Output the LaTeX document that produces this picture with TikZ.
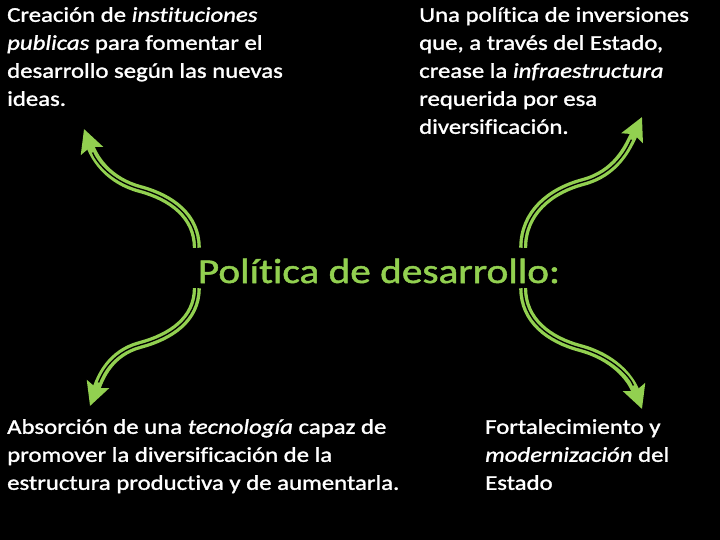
\documentclass[tikz,border=0pt]{standalone}
\usepackage{fontspec}
\setmainfont{Carlito}[FakeStretch=1.18, FakeBold=1.4, Ligatures=NoCommon]
\usepackage{tikz}
\usetikzlibrary{arrows.meta}
\definecolor{leafgreen}{RGB}{146,208,80}
\tikzset{
    bodytext/.style={anchor=north west, inner sep=0pt, align=left, text=white,
        font=\fontsize{21}{28}\selectfont},
    headline/.style={inner sep=0pt, text=leafgreen, font=\fontsize{35}{38}\selectfont},
    hubbox/.style={inner sep=0pt, minimum width=326pt, minimum height=40pt},
    curvy/.style={draw=leafgreen, line width=8pt, -{Stealth[length=23pt,width=23pt,inset=4pt]}},
    curvycore/.style={draw=black, line width=1.3pt, shorten >=25pt}
}

\begin{document}
\begin{tikzpicture}[x=1pt, y=1pt]
			% Background
			\fill[black] (0,0) rectangle (720,540);
			\useasboundingbox (0,0) rectangle (720,540);
			
			% Nodes
			\node[hubbox] (hub) at (360,272) {};
			\node[headline] (pol) at (379,269) {Política de desarrollo:};
			\node[bodytext] (inst) at (7,533) {Creación de \textit{instituciones}\\
				\textit{publicas} para fomentar el\\
				desarrollo según las nuevas\\
				ideas.};
			\node[bodytext] (inv) at (419,533) {Una política de inversiones\\
				que, a través del Estado,\\
				crease la \textit{infraestructura}\\
				requerida por esa\\
				diversificación.};
			\node[bodytext] (tec) at (7,121) {Absorción de una \textit{tecnología} capaz de\\
				promover la diversificación de la\\
				estructura productiva y de aumentarla.};
			\node[bodytext] (est) at (485,121) {Fortalecimiento y\\
				\textit{modernización} del\\
				Estado};
			
			% Bends and arrow tips
			\coordinate (bendA) at (140,351);
			\coordinate (bendB) at (583,358);
			\coordinate (bendC) at (140,195);
			\coordinate (bendD) at (580,192);
			\coordinate (tipA) at (84,411);
			\coordinate (tipB) at (642,423);
			\coordinate (tipC) at (90,134);
			\coordinate (tipD) at (642,131);
			
			% Arrows
			\foreach \corner/\bend/\outa/\ina/\outb/\inb/\tip in {
				north west/bendA/90/-15/165/-70/tipA,
				north east/bendB/90/195/15/-115/tipB,
				south west/bendC/-90/15/195/70/tipC,
				south east/bendD/-90/165/-15/110/tipD}{
				\draw[curvy] (hub.\corner) to[out=\outa,in=\ina] (\bend) to[out=\outb,in=\inb] (\tip);
				\draw[curvycore] (hub.\corner) to[out=\outa,in=\ina] (\bend) to[out=\outb,in=\inb] (\tip);
			}
\end{tikzpicture}
\end{document}
